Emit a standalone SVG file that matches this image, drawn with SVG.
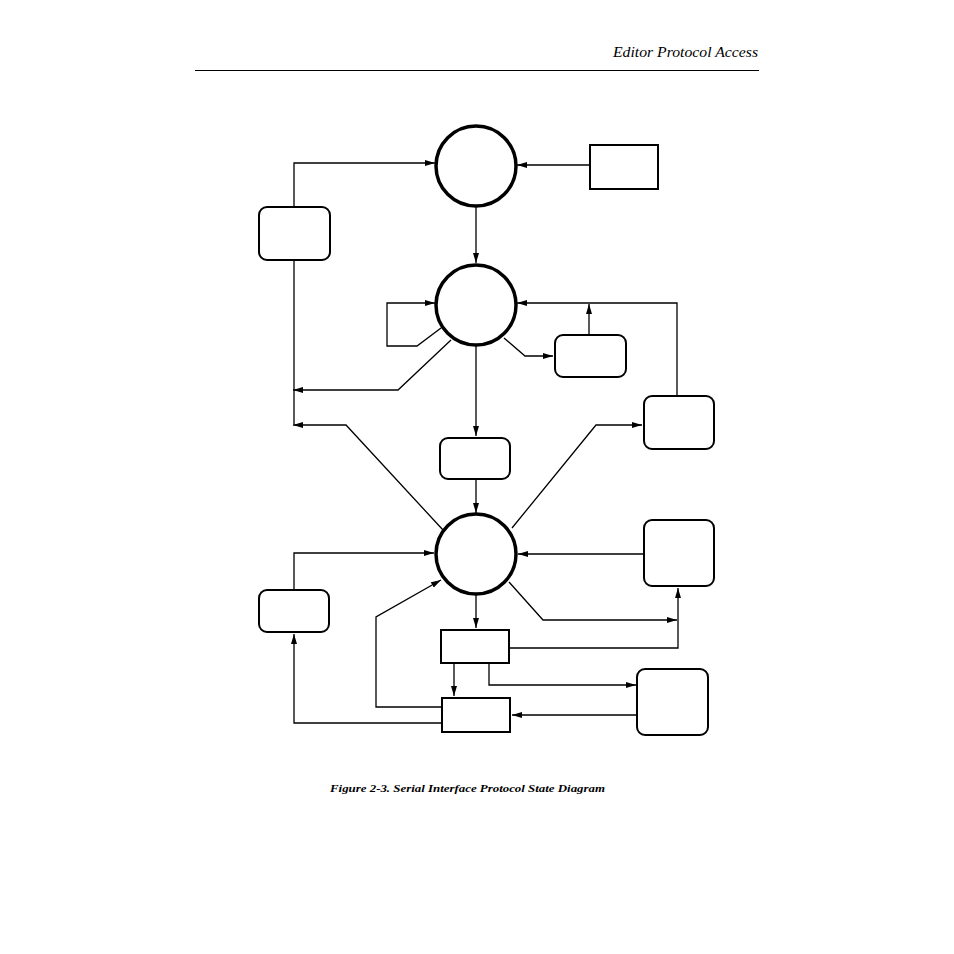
<svg xmlns="http://www.w3.org/2000/svg" width="954" height="954" viewBox="0 0 954 954">
<style>
.st{fill:#fff;stroke:#000;stroke-width:3.5}
.bx{fill:#fff;stroke:#000;stroke-width:2}
.c{fill:none;stroke:#000;stroke-width:1.3;marker-end:url(#a)}
.l{fill:none;stroke:#000;stroke-width:1.3}
</style>
<defs><marker id="a" viewBox="0 0 10 6" refX="10" refY="3" markerWidth="10" markerHeight="6" markerUnits="userSpaceOnUse" orient="auto"><path d="M0,0L10,3L0,6z"/></marker></defs>
<rect width="954" height="954" fill="#fff"/>
<text x="613" y="57" textLength="145" lengthAdjust="spacingAndGlyphs" font-family="Liberation Serif, serif" font-style="italic" font-size="14">Editor Protocol Access</text>
<line x1="195" y1="70.5" x2="759" y2="70.5" stroke="#000" stroke-width="1"/>
<g id="connectors">
<polyline class="c" points="294,207 294,163 435,163"/>
<polyline class="c" points="590,165 517,165"/>
<polyline class="c" points="476,206 476,263"/>
<polyline class="l" points="294,260 294,424"/>
<polyline class="c" points="441,328 417,346 387,346 387,303 435,303"/>
<polyline class="c" points="451,340 398,390 293,390"/>
<polyline class="c" points="476,345 476,436"/>
<polyline class="c" points="504,338 525,356 553,356"/>
<polyline class="c" points="589,335 589,304"/>
<polyline class="c" points="677,396 677,303 517,303"/>
<polyline class="c" points="443,530 346,425 293,425"/>
<polyline class="c" points="512,528 596,425 642,425"/>
<polyline class="c" points="476,479 476,513"/>
<polyline class="c" points="294,590 294,553 434,553"/>
<polyline class="c" points="644,554 518,554"/>
<polyline class="c" points="509,582 543,620 677,620"/>
<polyline class="c" points="509,648 678,648 678,588"/>
<polyline class="c" points="476,594 476,628"/>
<polyline class="c" points="454,663 454,696"/>
<polyline class="c" points="489,663 489,685 636,685"/>
<polyline class="c" points="637,715 512,715"/>
<polyline class="c" points="442,707 376,707 376,617 441,580"/>
<polyline class="c" points="442,723 294,723 294,634"/>
</g>
<g id="s1"><circle class="st" cx="476" cy="166" r="40"/></g>
<g id="s2"><circle class="st" cx="476" cy="305" r="40"/></g>
<g id="s3"><circle class="st" cx="476" cy="554" r="40"/></g>
<g id="r1"><rect class="bx" x="590" y="145" width="68" height="44"/></g>
<g id="b1"><rect class="bx" x="259" y="207" width="71" height="53" rx="8"/></g>
<g id="b2"><rect class="bx" x="555" y="335" width="71" height="42" rx="8"/></g>
<g id="b3"><rect class="bx" x="644" y="396" width="70" height="53" rx="8"/></g>
<g id="b4"><rect class="bx" x="440" y="438" width="70" height="41" rx="8"/></g>
<g id="b5"><rect class="bx" x="644" y="520" width="70" height="66" rx="8"/></g>
<g id="b6"><rect class="bx" x="259" y="590" width="70" height="42" rx="8"/></g>
<g id="r2"><rect class="bx" x="441" y="630" width="68" height="33"/></g>
<g id="r3"><rect class="bx" x="442" y="698" width="68" height="34"/></g>
<g id="b7"><rect class="bx" x="637" y="669" width="71" height="66" rx="8"/></g>
<text x="330" y="792" textLength="275" lengthAdjust="spacingAndGlyphs" font-family="Liberation Serif, serif" font-style="italic" font-weight="bold" font-size="11">Figure 2-3.  Serial Interface Protocol State Diagram</text>
</svg>
